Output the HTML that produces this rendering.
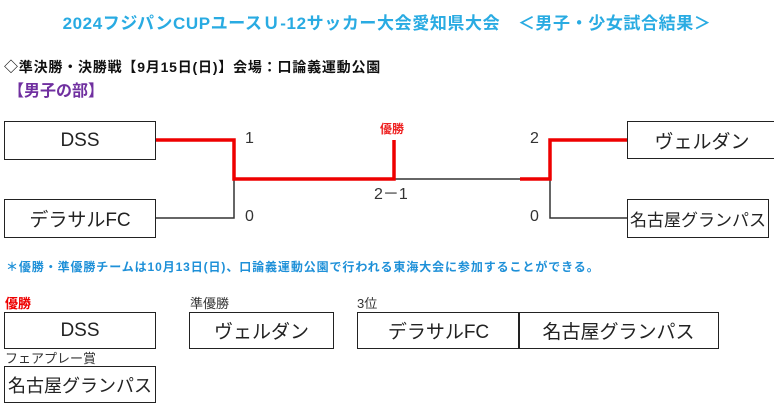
<!DOCTYPE html>
<html><head><meta charset="utf-8"><style>
body{margin:0;width:774px;height:406px;background:#fff;position:relative;overflow:hidden;font-family:"Liberation Sans","Noto Sans CJK JP",sans-serif;}
.a{position:absolute;white-space:nowrap;}
.box{position:absolute;border:1.5px solid #222;box-sizing:border-box;display:flex;align-items:center;justify-content:center;font-size:19px;color:#222;}
.l{position:absolute;}
</style></head><body>
<div class="a" style="left:0;width:774px;text-align:center;top:9px;font-size:17px;color:#29abe2;font-weight:bold;letter-spacing:0.6px;">2024フジパンCUPユースＵ-12サッカー大会愛知県大会　＜男子・少女試合結果＞</div>
<div class="a" style="left:4px;top:57px;font-size:14px;font-weight:bold;color:#111;letter-spacing:0.8px;">◇準決勝・決勝戦【9月15日(日)】会場：口論義運動公園</div>
<div class="a" style="left:8px;top:77px;font-size:16px;font-weight:bold;color:#7030a0;">【男子の部】</div>

<div class="box" style="left:4px;top:121px;width:152px;height:39px;">DSS</div>
<div class="box" style="left:4px;top:199px;width:152px;height:39px;">デラサルFC</div>
<div class="box" style="left:627px;top:121px;width:150px;height:38px;">ヴェルダン</div>
<div class="box" style="left:627px;top:199px;width:142px;height:39px;font-size:17px;">名古屋グランパス</div>

<svg class="l" style="left:0;top:0" width="774" height="406">
<g stroke="#333" stroke-width="1.5" fill="none">
<polyline points="156,218 234,218 234,179"/>
<line x1="394" y1="179" x2="520" y2="179"/>
<polyline points="627,218 550,218 550,179"/>
</g>
<g stroke="#e00" stroke-width="3.5" fill="none">
<polyline points="156,140 234,140 234,179 394,179 394,140"/>
<polyline points="520,179 550,179 550,140 627,140"/>
</g>
</svg>
<div class="a" style="left:380px;top:120px;font-size:12px;font-weight:bold;color:#e22;">優勝</div>
<div class="a" style="left:245px;top:130px;font-size:16px;color:#333;">1</div>
<div class="a" style="left:245px;top:208px;font-size:16px;color:#333;">0</div>
<div class="a" style="left:530px;top:130px;font-size:16px;color:#333;">2</div>
<div class="a" style="left:530px;top:208px;font-size:16px;color:#333;">0</div>
<div class="a" style="left:374px;top:180px;font-size:16px;color:#333;">2－1</div>

<div class="a" style="left:6px;top:258px;font-size:12px;font-weight:bold;color:#1e90d8;letter-spacing:0.9px;">＊優勝・準優勝チームは10月13日(日)、口論義運動公園で行われる東海大会に参加することができる。</div>
<div class="a" style="left:5px;top:293px;font-size:13px;font-weight:bold;color:#e00;">優勝</div>
<div class="a" style="left:190px;top:293px;font-size:13px;color:#333;">準優勝</div>
<div class="a" style="left:357px;top:293px;font-size:13px;color:#333;">3位</div>
<div class="box" style="left:4px;top:312px;width:152px;height:37px;">DSS</div>
<div class="box" style="left:189px;top:312px;width:145px;height:37px;">ヴェルダン</div>
<div class="box" style="left:357px;top:312px;width:163px;height:37px;">デラサルFC</div>
<div class="box" style="left:518px;top:312px;width:201px;height:37px;">名古屋グランパス</div>
<div class="a" style="left:5px;top:348px;font-size:13px;color:#333;">フェアプレー賞</div>
<div class="box" style="left:4px;top:366px;width:152px;height:37px;font-size:18px;">名古屋グランパス</div>
</body></html>
